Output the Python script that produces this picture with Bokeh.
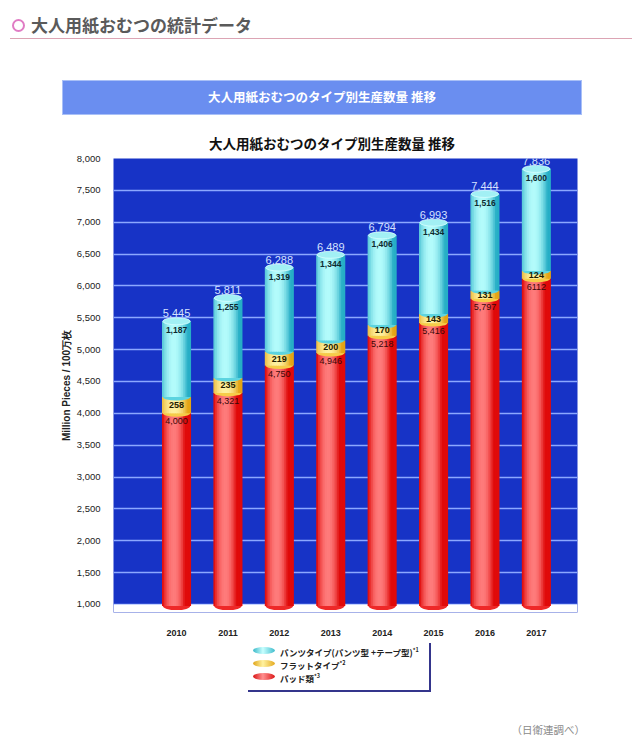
from bokeh.plotting import figure
from bokeh.layouts import column
from bokeh.models import ColumnDataSource, FixedTicker, Range1d, NumeralTickFormatter, Div
from bokeh.core.properties import value
from bokeh.embed import file_html
from bokeh.resources import INLINE

# ---------------- data ----------------
years = ["2010", "2011", "2012", "2013", "2014", "2015", "2016", "2017"]
pad = [4000, 4321, 4750, 4946, 5218, 5416, 5797, 6112]
flat = [258, 235, 219, 200, 170, 143, 131, 124]
pants = [1187, 1255, 1319, 1344, 1406, 1434, 1516, 1600]
totals = [5445, 5811, 6288, 6489, 6794, 6993, 7444, 7836]
pad_text = ["4,000", "4,321", "4,750", "4,946", "5,218", "5,416", "5,797", "6112"]
flat_text = ["258", "235", "219", "200", "170", "143", "131", "124"]
pants_text = ["1,187", "1,255", "1,319", "1,344", "1,406", "1,434", "1,516", "1,600"]
total_text = ["5,445", "5,811", "6,288", "6,489", "6,794", "6,993", "7,444", "7,836"]
y_ticks = [1000, 1500, 2000, 2500, 3000, 3500, 4000, 4500, 5000, 5500, 6000, 6500, 7000, 7500, 8000]
legend_labels = ["パンツタイプ(パンツ型 +テープ型)", "フラットタイプ", "パッド類"]
legend_notes = ["*1", "*2", "*3"]

header_text = "大人用紙おむつの統計データ"
banner_text = "大人用紙おむつのタイプ別生産数量 推移"
chart_title = "大人用紙おむつのタイプ別生産数量 推移"
source_text = "（日衛連調べ）"

# ---------------- styles ----------------
PAGE_W = 632
JPF = "'Noto Sans CJK JP', 'Noto Sans', sans-serif"
LAT = value("Liberation Sans")

RED = ("#e00a0a", "#ff7c7c", 0.40)
YEL = ("#e4a414", "#fff1a0", 0.50)
CYA = ("#26aec6", "#b4fcfc", 0.50)


def hex2rgb(h):
    h = h.lstrip("#")
    return tuple(int(h[i:i + 2], 16) for i in (0, 2, 4))


def shade(spec, t):
    e, c = hex2rgb(spec[0]), hex2rgb(spec[1])
    b = max(0.0, 1.0 - ((t - 0.42) / spec[2]) ** 2)
    r = [int(e[k] + (c[k] - e[k]) * b) for k in range(3)]
    return "#%02x%02x%02x" % tuple(r)


def css(d):
    return ";".join(f"{k}:{v}" for k, v in d.items())


def abs_el(left, top, content="", **style):
    s = {"position": "absolute", "left": f"{left}px", "top": f"{top}px", "white-space": "nowrap"}
    s.update({k.replace("_", "-"): v for k, v in style.items()})
    return f'<div style="{css(s)}">{content}</div>'


# ---------------- top block: header, banner, title ----------------
TOP_H = 152
top_html = "".join([
    abs_el(11.5, 18.5, "", width="13px", height="13px", box_sizing="border-box",
           border="2.6px solid #e07cc4", border_radius="50%"),
    abs_el(31, 13, header_text, font_family=JPF, font_size="17px", font_weight="bold",
           color="#5a5a5a", line_height="24px"),
    abs_el(10, 37.5, "", width="622px", height="1px", background="#dca4b4"),
    abs_el(62, 80, banner_text, width="520px", height="35px", box_sizing="border-box",
           background="#6a8ef0", border="1.5px solid #a9c0f7", color="white",
           font_family=JPF, font_size="12.5px", font_weight="bold", text_align="center",
           line_height="31px"),
    abs_el(132, 135, chart_title, width="400px", text_align="center", font_family=JPF,
           font_size="13.5px", font_weight="bold", color="#111111", line_height="16px"),
])
top_div = Div(text=f'<div style="position:relative;width:{PAGE_W}px;height:{TOP_H}px;">{top_html}</div>',
              width=PAGE_W, height=TOP_H, margin=(0, 0, 0, 0))

# ---------------- chart ----------------
XMIN, XMAX = -1.226, 7.8
YMIN, YMAX = 874, 8000
BOT = 975
W = 0.545
N = 16
BL, BR, BT, BB = 113, 55, 6, 30
FH = 454

c = figure(width=PAGE_W, height=FH + BT + BB, x_range=Range1d(XMIN, XMAX), y_range=Range1d(YMIN, YMAX),
           output_backend="svg", toolbar_location=None,
           min_border_left=BL, min_border_right=BR, min_border_top=BT, min_border_bottom=BB)
c.background_fill_color = "#1733c6"
c.border_fill_color = "white"
c.outline_line_color = None
c.xgrid.visible = False
c.ygrid.ticker = FixedTicker(ticks=y_ticks)
c.ygrid.grid_line_color = "#8ca8ff"
c.ygrid.grid_line_width = 1.3

c.quad(left=[XMIN], right=[XMAX], bottom=[YMIN], top=[1000], fill_color="white", line_color=None)

idx = list(range(len(years)))
flat_top = [p + f for p, f in zip(pad, flat)]


def strips(bottoms, tops, spec):
    xs, bs, ts, cs = [], [], [], []
    for i in idx:
        for j in range(N):
            t = (j + 0.5) / N
            xs.append(i - W / 2 + t * W)
            bs.append(bottoms[i])
            ts.append(tops[i])
            cs.append(shade(spec, t))
    src = ColumnDataSource(dict(x=xs, bottom=bs, top=ts, color=cs))
    c.vbar(x="x", width=W / N * 1.6, bottom="bottom", top="top", fill_color="color",
           line_color=None, source=src)


c.ellipse(x=idx, y=[BOT] * len(idx), width=W * 0.98, height=8, height_units="screen",
          fill_color="#ee2828", line_color=None)
strips([BOT] * len(idx), pad, RED)
c.ellipse(x=idx, y=pad, width=W * 0.98, height=7, height_units="screen",
          fill_color="#f6cc48", line_color=None)
strips(pad, flat_top, YEL)
c.ellipse(x=idx, y=flat_top, width=W * 0.98, height=7, height_units="screen",
          fill_color="#5cd4e0", line_color=None)
strips(flat_top, totals, CYA)
c.ellipse(x=idx, y=totals, width=W * 0.98, height=7, height_units="screen",
          fill_color="#a2f0f4", line_color="#d8ffff", line_width=0.8)

flat_mid = [p + f / 2 for p, f in zip(pad, flat)]
c.text(x=idx, y=totals, text=total_text, text_align="center", text_baseline="bottom",
       y_offset=-4, text_font=LAT, text_font_size="11px", text_color="#d6e2ff")
c.text(x=idx, y=totals, text=pants_text, text_align="center", text_baseline="top",
       y_offset=6, text_font=LAT, text_font_size="8.5px", text_font_style="bold",
       text_color="#0c2a30")
c.text(x=idx, y=flat_mid, text=flat_text, text_align="center", text_baseline="middle",
       text_font=LAT, text_font_size="9px", text_font_style="bold", text_color="#221a00")
c.text(x=idx, y=pad, text=pad_text, text_align="center", text_baseline="top",
       y_offset=5, text_font=LAT, text_font_size="9px", text_color="#3a0808")

c.xaxis.ticker = FixedTicker(ticks=idx)
c.xaxis.major_label_overrides = {i: y for i, y in zip(idx, years)}
c.xaxis.axis_line_color = None
c.xaxis.major_tick_line_color = None
c.xaxis.minor_tick_line_color = None
c.xaxis.major_label_standoff = 11
c.xaxis.major_label_text_font = "Liberation Sans"
c.xaxis.major_label_text_font_size = "9px"
c.xaxis.major_label_text_font_style = "bold"
c.xaxis.major_label_text_color = "#222222"

c.yaxis.ticker = FixedTicker(ticks=y_ticks)
c.yaxis.formatter = NumeralTickFormatter(format="0,0")
c.yaxis.axis_line_color = None
c.yaxis.major_tick_line_color = None
c.yaxis.minor_tick_line_color = None
c.yaxis.major_label_standoff = 7
c.yaxis.major_label_text_font = "Liberation Sans"
c.yaxis.major_label_text_font_size = "9.5px"
c.yaxis.major_label_text_color = "#222222"
c.yaxis.axis_label = "Million Pieces / 100万枚"
c.yaxis.axis_label_text_font = "Liberation Sans"
c.yaxis.axis_label_text_font_size = "10px"
c.yaxis.axis_label_text_font_style = "bold"
c.yaxis.axis_label_text_color = "#222222"
c.yaxis.axis_label_standoff = 2

# ---------------- bottom block: legend + source ----------------
BOT_H = 97
rows = [8, 21, 34]
sw_bg = ["linear-gradient(90deg,#3ab8c8,#c8ffff 45%,#40bccc)",
         "linear-gradient(90deg,#e0a418,#fff2a0 45%,#e4aa20)",
         "linear-gradient(90deg,#d81414,#ff9090 45%,#dc1818)"]
parts = []
for r, bg in zip(rows, sw_bg):
    parts.append(abs_el(253, r - 3.5, "", width="22px", height="7px", border_radius="50%",
                        background=bg))
for r, t, n in zip(rows, legend_labels, legend_notes):
    parts.append(abs_el(280, r - 6, f'{t}<span style="font-size:5.5px;vertical-align:4px;">{n}</span>',
                        font_family=JPF, font_size="8.5px", font_weight="bold", color="#222222",
                        line_height="12px"))
parts.append(abs_el(429, 1, "", width="2.4px", height="49px", background="#34358c"))
parts.append(abs_el(248, 48, "", width="183.4px", height="2.4px", background="#34358c"))
parts.append(abs_el(505, 80, source_text, width="80px", text_align="right", font_family=JPF,
                    font_size="10.5px", color="#8a8a8a", line_height="16px"))
bot_div = Div(text=f'<div style="position:relative;width:{PAGE_W}px;height:{BOT_H}px;">{"".join(parts)}</div>',
              width=PAGE_W, height=BOT_H, margin=(0, 0, 0, 0))

layout = column(top_div, c, bot_div, spacing=0)
open("out.html", "w").write(file_html(layout, INLINE))
